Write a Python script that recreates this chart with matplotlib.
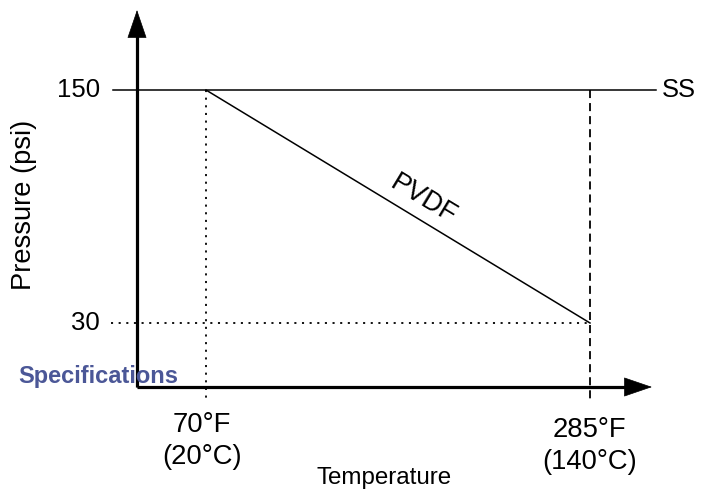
import matplotlib
matplotlib.use("Agg")
import matplotlib.pyplot as plt

plt.rcParams['font.family'] = ['Liberation Sans', 'DejaVu Sans']
plt.rcParams['lines.scale_dashes'] = False

# Data
temps_F = [70, 285]
temp_labels_F = ["70°F", "285°F"]
temp_labels_C = ["(20°C)", "(140°C)"]
pressures = [150, 30]
pressure_labels = ["150", "30"]
pvdf_temps = [70, 285]
pvdf_pressure = [150, 30]
ss_pressure = 150

fig = plt.figure(figsize=(7.06, 4.93), dpi=100)
ax = fig.add_axes([0, 0, 1, 1])
ax.set_xlim(-45.34, 349.95)
ax.set_ylim(-57.55, 196.35)
ax.axis('off')

x0, y0 = 31.37, -2.96  # axes origin
xtip, ytip = 319.7, 191.2

# Axes with arrows
ax.plot([x0, x0], [y0, ytip - 10], color='black', lw=2.3, solid_capstyle='butt')
ax.plot([x0, xtip - 10], [y0, y0], color='black', lw=2.3, solid_capstyle='butt')
ax.annotate('', xy=(x0, ytip), xytext=(x0, y0),
            arrowprops=dict(arrowstyle='-|>,head_length=19,head_width=6.5',
                            mutation_scale=1, lw=0.5, color='black',
                            shrinkA=0, shrinkB=0))
ax.annotate('', xy=(xtip, y0), xytext=(x0, y0),
            arrowprops=dict(arrowstyle='-|>,head_length=19,head_width=6.5',
                            mutation_scale=1, lw=0.5, color='black',
                            shrinkA=0, shrinkB=0))

# SS line
ax.plot([17.9, 322], [ss_pressure, ss_pressure], color='black', lw=1.1)
ax.text(325.3, ss_pressure, "SS", ha='left', va='center', fontsize=18.4)

# PVDF line
ax.plot(pvdf_temps, pvdf_pressure, color='black', lw=1.1)
ax.text(191.8, 93.6, "PVDF", ha='center', va='center', fontsize=19.5, rotation=-31.2,
        rotation_mode='anchor')

# 30 psi dotted line
ax.plot([16.8, temps_F[1]], [pressures[1], pressures[1]], color='black', lw=1.3,
        linestyle=(0, (1.5, 4.0)))

# vertical guides
ax.plot([temps_F[0], temps_F[0]], [pressures[0], -9.66], color='black', lw=1.3,
        linestyle=(0, (1.5, 4.0)))
ax.plot([temps_F[1], temps_F[1]], [pressures[0], -9.66], color='black', lw=1.3,
        linestyle=(0, (5.8, 3.6)))

# y tick labels
for p, lab in zip(pressures, pressure_labels):
    ax.text(10.65, p, lab, ha='right', va='center', fontsize=18.5)

# x tick labels
ax.text(67.8, -22.5, temp_labels_F[0], ha='center', va='center', fontsize=19.7)
ax.text(67.8, -39.2, temp_labels_C[0], ha='center', va='center', fontsize=19.7)
ax.text(284.7, -25.0, temp_labels_F[1], ha='center', va='center', fontsize=19.7)
ax.text(284.7, -41.8, temp_labels_C[1], ha='center', va='center', fontsize=19.7)

# Axis titles
ax.text(169.7, -49.8, "Temperature", ha='center', va='center', fontsize=17.4)
ax.text(-31.9, 91.0, "Pressure (psi)", ha='center', va='center', fontsize=19.6,
        rotation=90)

ax.text(-35.3, 2.7, "Specifications", ha='left', va='center', fontsize=17,
        fontweight='bold', color='#4b5797')

fig.savefig("out.png", dpi=100)
